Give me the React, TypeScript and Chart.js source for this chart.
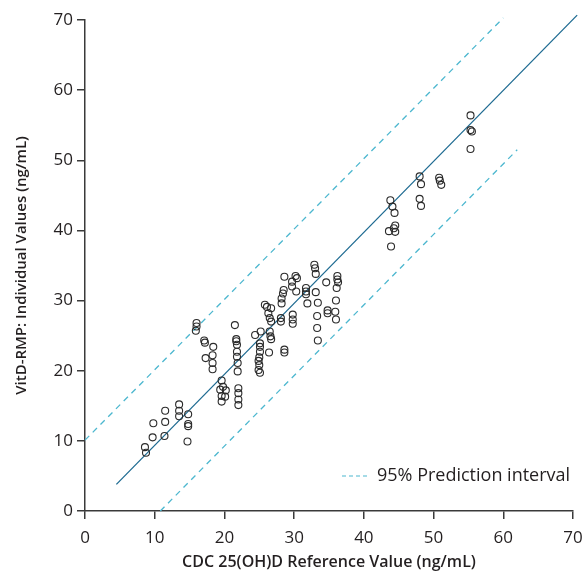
import { useEffect, useRef } from "react";
import { Chart, registerables } from "chart.js";

Chart.register(...registerables);

// CDC reference values (x) and VitD-RMP individual values (y)
const refValues = [
  8.6, 8.75, 9.7, 9.8, 11.4, 11.5, 11.5, 13.5, 13.5, 13.5, 14.8, 14.8, 14.8, 14.7,
  16.0, 16.0, 15.9, 17.1, 17.2, 18.4, 17.3, 18.3, 18.3, 18.3,
  19.6, 19.8, 19.4, 20.2, 19.6, 20.1, 19.6,
  21.5, 21.7, 21.7, 21.8, 21.8, 21.8, 21.9, 21.9, 22.0, 22.0, 22.0, 22.0,
  24.4, 25.2, 25.1, 25.1, 25.1, 25.0, 24.9, 25.0, 24.9, 25.1,
  25.8, 26.1, 26.7, 26.3, 26.5, 26.7, 26.5, 26.6, 26.7, 26.4,
  28.6, 30.2, 30.4, 29.7, 29.7, 28.5, 28.4, 28.2, 28.2, 30.3, 28.1, 28.1, 29.8, 29.8, 29.8, 28.6, 28.6,
  31.7, 31.7, 31.7, 31.9, 32.9, 33.0, 33.1, 33.1, 33.4, 33.3, 33.3, 33.4, 34.6, 34.8, 34.8,
  36.2, 36.2, 36.3, 36.1, 36.0, 35.9, 36.0,
  43.8, 44.1, 44.4, 44.5, 44.3, 43.6, 44.5, 43.9,
  48.0, 48.2, 48.0, 48.2, 50.8, 50.9, 51.1,
  55.3, 55.3, 55.5, 55.3,
];
const rmpValues = [
  9.1, 8.3, 10.5, 12.5, 10.7, 12.7, 14.3, 15.2, 14.3, 13.5, 13.8, 12.4, 12.1, 9.9,
  26.8, 26.3, 25.7, 24.3, 24.0, 23.4, 21.8, 22.2, 21.1, 20.2,
  18.6, 17.7, 17.3, 17.2, 16.4, 16.3, 15.6,
  26.5, 24.5, 24.2, 23.7, 22.7, 22.0, 21.1, 19.9, 17.5, 16.8, 15.9, 15.1,
  25.1, 25.6, 23.9, 23.4, 22.7, 21.9, 21.4, 20.8, 20.1, 19.7,
  29.4, 29.1, 28.9, 28.2, 27.5, 27.0, 25.6, 24.9, 24.5, 22.6,
  33.4, 33.5, 33.2, 32.7, 32.0, 31.5, 31.0, 30.3, 29.6, 31.3, 27.5, 27.0, 28.0, 27.3, 26.7, 23.0, 22.6,
  31.8, 31.3, 30.9, 29.6, 35.1, 34.6, 33.8, 31.2, 29.7, 27.8, 26.1, 24.3, 32.6, 28.6, 28.2,
  33.5, 33.0, 32.6, 31.8, 30.0, 28.4, 27.3,
  44.3, 43.4, 42.5, 40.7, 40.3, 39.9, 39.8, 37.7,
  47.7, 46.6, 44.5, 43.5, 47.5, 47.1, 46.5,
  56.4, 54.3, 54.1, 51.6,
];

// Regression line and 95% prediction interval end points
const fitX = [4.5, 70.6];
const fitY = [3.8, 70.7];
const upperX = [0, 60];
const upperY = [10.1, 70.3];
const lowerX = [10.8, 62];
const lowerY = [0, 51.5];

const axisMin = 0;
const axisMax = 70;
const tickStep = 10;

const xTitle = "CDC 25(OH)D Reference Value (ng/mL)";
const yTitle = "VitD-RMP: Individual Values (ng/mL)";
const legendLabel = "95% Prediction interval";

const FONT = '"Open Sans", "Noto Sans", sans-serif';
const fitColor = "#1d6a91";
const piColor = "#4cb7cf";
const textColor = "#231f20";
const axisColor = "#3a3a3a";

const toPoints = (xs: number[], ys: number[]) => xs.map((x, i) => ({ x, y: ys[i] }));

const legendPlugin = {
  id: "piLegend",
  afterDraw(chart: any) {
    const { ctx, chartArea } = chart;
    const y = chartArea.bottom - 35;
    const x0 = chartArea.right - 231;
    ctx.save();
    ctx.strokeStyle = piColor;
    ctx.lineWidth = 1.2;
    ctx.setLineDash([4, 3]);
    ctx.beginPath();
    ctx.moveTo(x0, y);
    ctx.lineTo(x0 + 26, y);
    ctx.stroke();
    ctx.setLineDash([]);
    ctx.fillStyle = textColor;
    ctx.font = `18px ${FONT}`;
    ctx.textBaseline = "middle";
    ctx.textAlign = "left";
    ctx.fillText(legendLabel, x0 + 35, y);
    ctx.restore();
  },
};

export default function App() {
  const canvasRef = useRef<HTMLCanvasElement | null>(null);

  useEffect(() => {
    if (!canvasRef.current) return;
    const chart = new Chart(canvasRef.current, {
      type: "scatter",
      data: {
        datasets: [
          {
            label: "Individual values",
            data: toPoints(refValues, rmpValues),
            pointStyle: "circle",
            pointRadius: 3.5,
            pointBorderWidth: 1.1,
            pointBorderColor: "#2b2b2b",
            pointBackgroundColor: "rgba(255,255,255,0)",
            showLine: false,
          },
          {
            label: "Fit",
            data: toPoints(fitX, fitY),
            showLine: true,
            borderColor: fitColor,
            borderWidth: 1.3,
            pointRadius: 0,
            clip: false,
          } as any,
          {
            label: legendLabel,
            data: toPoints(upperX, upperY),
            showLine: true,
            borderColor: piColor,
            borderWidth: 1.3,
            borderDash: [6, 5],
            pointRadius: 0,
            clip: false,
          } as any,
          {
            label: legendLabel + " (lower)",
            data: toPoints(lowerX, lowerY),
            showLine: true,
            borderColor: piColor,
            borderWidth: 1.3,
            borderDash: [6, 5],
            pointRadius: 0,
            clip: false,
          } as any,
        ],
      },
      options: {
        animation: false,
        responsive: false,
        maintainAspectRatio: false,
        layout: { padding: { top: 20, right: 12, left: 0, bottom: 0 } },
        plugins: { legend: { display: false }, tooltip: { enabled: false } },
        scales: {
          x: {
            type: "linear",
            min: axisMin,
            max: axisMax,
            border: { color: axisColor, width: 1.5 },
            grid: { display: true, drawOnChartArea: false, drawTicks: true, tickLength: 8, color: axisColor, lineWidth: 1.5 },
            ticks: { stepSize: tickStep, color: textColor, padding: 9, font: { family: FONT, size: 17 } },
            title: {
              display: true,
              text: xTitle,
              color: textColor,
              padding: { top: 0, bottom: 0 },
              font: { family: FONT, size: 16, weight: "600" },
            },
            afterFit: (scale: any) => {
              scale.height = 61;
              scale.paddingLeft = 0;
              scale.paddingRight = 0;
            },
          },
          y: {
            type: "linear",
            min: axisMin,
            max: axisMax,
            border: { color: axisColor, width: 1.5 },
            grid: { display: true, drawOnChartArea: false, drawTicks: true, tickLength: 8, color: axisColor, lineWidth: 1.5 },
            ticks: { stepSize: tickStep, color: textColor, padding: 4, font: { family: FONT, size: 17 } },
            title: {
              display: true,
              text: yTitle,
              color: textColor,
              padding: { top: 13, bottom: 0 },
              font: { family: FONT, size: 15, weight: "600" },
            },
            afterFit: (scale: any) => {
              scale.width = 85;
              scale.paddingTop = 0;
              scale.paddingBottom = 0;
            },
          },
        },
      },
      plugins: [legendPlugin],
    } as any);
    return () => chart.destroy();
  }, []);

  return (
    <div style={{ position: "fixed", left: 0, top: 0, width: 585, height: 572, background: "#fff" }}>
      <canvas ref={canvasRef} width={585} height={572} style={{ width: 585, height: 572 }} />
    </div>
  );
}
